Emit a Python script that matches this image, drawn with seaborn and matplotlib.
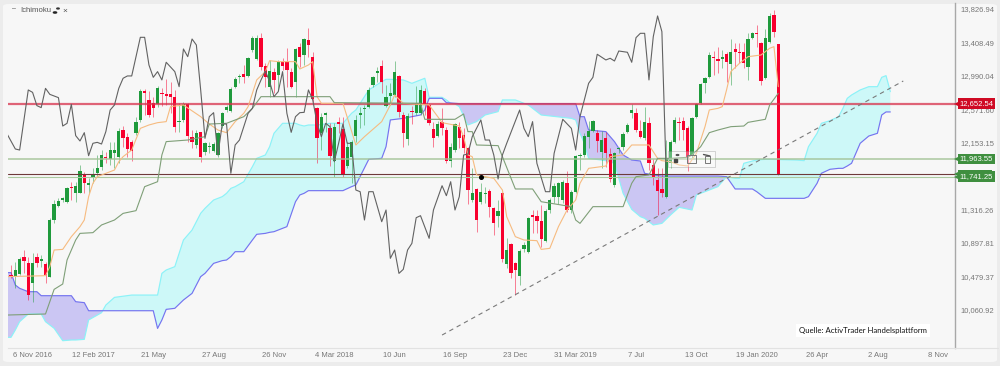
import numpy as np
import seaborn as sns
import matplotlib
matplotlib.use("Agg")
import matplotlib.pyplot as plt
from matplotlib.patches import FancyBboxPatch, Rectangle, Circle
from matplotlib.transforms import blended_transform_factory, ScaledTranslation

# weekly candles
opens = [10510,10498,10523,10731,10656,10406,10740,10690,10644,10490,
         11198,11377,11448,11423,11615,11540,11540,11773,11632,11719,
         11790,11865,11990,11957,12040,11990,12323,12240,12169,12282,
         12449,12811,12699,12657,12649,12786,12769,12769,12740,12419,
         12449,12649,12232,12136,12294,12052,12107,12065,12011,12373,
         12574,12565,12865,12982,13020,12999,13324,13207,13470,13128,
         12857,13053,13011,13178,13178,13053,12928,13365,13261,13449,
         13232,12603,12282,12515,12344,11936,12428,12332,11873,11990,
         12249,12511,12582,12615,12886,13032,13128,12624,12749,12761,
         12999,12511,12211,12561,12532,12532,12815,12636,12332,12249,
         12424,12323,11936,12073,12365,12261,12094,11448,11582,11427,
         11519,11565,11344,11248,11532,10648,10894,10656,10498,10831,
         10802,11261,11248,11186,10940,11323,11482,11482,11448,11665,
         11323,11544,11998,12011,12232,12315,12282,12052,12228,12019,
         11636,12090,12115,12294,12532,12532,12315,12219,12407,11886,
         11699,11590,11490,11907,12178,12428,12440,12353,12011,12490,
         12665,12915,12982,13240,13207,13215,13270,13149,13336,13303,
         13295,13115,13470,13541,13407,12970,13428,13761,13395]
closes = [10481,10573,10706,10690,10260,10656,10656,10706,10510,11198,
          11398,11440,11469,11594,11602,11623,11811,11657,11665,11769,
          11844,12011,11969,12073,12073,12315,12228,12086,12065,12428,
          12815,12782,12511,12594,12845,12769,12749,12740,12365,12436,
          12649,12249,12178,12290,11990,12157,12123,12149,12282,12532,
          12615,12836,12961,12999,12990,13220,13478,13478,13115,12982,
          13061,12949,13170,13124,13074,12865,13332,13240,13457,13386,
          12707,12219,12482,12536,11998,12365,12398,11761,12115,12178,
          12449,12532,12594,12824,12982,13065,12928,12740,12782,13053,
          12553,12282,12499,12544,12657,12824,12636,12415,12228,12394,
          12344,11936,12115,12398,12219,12094,11573,11540,11198,11552,
          11532,11357,11165,11315,10706,10823,10531,10573,10811,10886,
          11219,11240,11186,10961,11315,11448,11623,11657,11669,11323,
          11552,11998,12011,12249,12315,12440,12186,12198,12040,11711,
          12040,12103,12269,12386,12574,12323,12232,12428,11907,11740,
          11565,11532,11969,12178,12449,12415,12323,11990,12469,12649,
          12899,12974,13261,13228,13190,13232,13170,13303,13295,13290,
          13165,13457,13532,13524,12936,13470,13753,13553,11773]
highs = [10635,10677,10740,10823,10740,10781,10781,10761,10677,11219,
         11448,11469,11490,11615,11677,11677,11886,11802,11719,11844,
         12011,12073,12052,12178,12178,12344,12373,12282,12198,12490,
         12832,12832,12815,12740,12874,12845,12957,12928,12824,12657,
         12678,12665,12323,12323,12303,12178,12178,12178,12303,12553,
         12636,12857,12982,13024,13136,13240,13499,13511,13532,13157,
         13199,13095,13199,13220,13345,13095,13345,13407,13470,13595,
         13303,12615,12532,12553,12407,12407,12482,12490,12178,12198,
         12511,12615,12636,12857,12999,13115,13199,12886,12907,13186,
         13011,12553,12532,12624,12874,12886,12845,12657,12428,12440,
         12594,12365,12157,12415,12428,12344,12115,11844,11594,11665,
         11615,11582,11357,11448,11552,10969,10906,10677,10831,10927,
         11240,11323,11323,11386,11332,11469,11665,11677,11699,11815,
         11573,12011,12032,12282,12440,12449,12323,12315,12303,12094,
         12052,12115,12303,12415,12649,12594,12449,12607,12482,11957,
         11844,11844,12197,12198,12482,12490,12482,12373,12490,12657,
         12907,12990,13295,13315,13365,13324,13303,13457,13415,13407,
         13407,13540,13553,13636,13428,13582,13782,13824,13395]
lows = [10469,10344,10510,10531,10198,10177,10615,10615,10406,10490,
        11157,11365,11427,11406,11448,11427,11532,11532,11532,11657,
        11740,11823,11907,11886,11844,11907,12115,11990,11936,12261,
        12428,12511,12490,12490,12615,12623,12636,12532,12303,12303,
        12428,12178,12094,12094,11928,12011,12032,12052,11990,12344,
        12553,12553,12845,12907,12915,12982,13303,13199,13074,12857,
        12740,12782,12824,13074,12865,12845,12740,13115,13136,13240,
        12678,11907,12073,12303,11873,11732,12282,11740,11844,11657,
        12178,12344,12386,12603,12865,12928,12790,12615,12636,12740,
        12490,12107,12136,12398,12511,12511,12511,12386,12107,12232,
        12261,11907,11865,12052,12094,12032,11398,11427,11052,11398,
        11406,11240,11011,11115,10677,10594,10469,10260,10385,10802,
        10790,11031,11031,10856,10927,11282,11406,11398,11406,11302,
        11282,11532,11823,11990,12094,12303,12052,11844,11865,11677,
        11615,12032,12073,12282,12470,12303,12219,12198,11823,11636,
        11261,11490,11469,11844,12157,12198,12198,11815,11969,12470,
        12649,12782,12969,13011,13040,13095,12928,12886,13095,13157,
        13095,12949,13457,13365,12886,12957,13415,13490,11761]

# ichimoku lines, read at their corners
chikou_weeks = [-1,1,2,4,5,6,7,8,9,11,12,13,14,15,16,17,18,19,20,21,22,23,24,25,26,27,28,30,31,32,33,34,35,36,38,39,40,41,42,43,
                44,45,46,47,48,49,50,51,52,53,54,55,56,57,58,59,60,61,62,63,64,65,66,67,68,69,70,71,72,73,74,75,76,
                77,78,79,80,81,82,83,84,86,87,88,89,90,91,92,93,94,95,97,98,100,101,102,103,104,105,106,107,109,110,111,112,113,114,115,
                118,119,120,121,122,124,125,126,128,130,131,132,134,135,136,138,139,140,141,143,144,145,146,147,148,149,150,151,152]
chikou = [12282,12086,12073,12824,12794,12628,12603,12844,12769,12728,12373,12407,12644,12253,12186,12290,12002,12157,12169,12148,12303,12573,12636,12844,12970,12999,12999,13482,13482,13136,12982,13053,12949,13170,13053,12865,13336,13240,13461,13386,
          12824,12219,12490,12540,12011,12398,12398,11782,12136,12198,12365,12532,12594,12824,12949,13061,12928,12740,12803,13053,12532,12294,12490,12540,12544,12824,12699,12407,12240,12407,12365,11927,12157,
          12398,12157,12157,11573,11552,11198,11552,11552,11177,11323,10719,10823,10531,10581,10823,10906,11227,11252,10969,11323,11627,11502,11677,11323,11490,12011,12023,12240,12449,12198,12198,12011,11711,12011,12157,
          12573,12344,12240,12428,11907,11552,11552,12032,12457,12344,12073,12490,12907,12982,13270,13199,13220,13186,13311,13295,13170,13478,13532,13532,12949,13490,13749,13553,11773]

tenkan_weeks = [-1,8,9,10,12,14,16,17,18,19,20,24,25,26,28,30,32,34,36,37,40,44,46,48,50,52,54,55,57,59,60,62,66,67,69,70,71,72,77,80,82,86,88,89,91,
                97,99,100,104,105,106,107,108,112,114,115,117,119,122,123,125,127,129,131,132,134,138,139,142,144,148,150,151,153,155,157,159,161,162,164,165,166,167,169,171,174,176,177,178]
tenkan = [10490,10502,10615,10823,10831,10990,11115,11198,11490,11657,11740,11823,11927,11990,12073,12344,12386,12415,12428,12615,12636,12490,12398,12323,12290,12428,12532,12615,12949,13053,13190,13178,13178,13086,13136,13178,12740,12657,12657,12136,12240,12428,12636,12761,12657,
          12636,12490,12415,12373,12240,12011,11990,11761,11719,11573,11240,10990,10948,10940,10831,10844,11115,11323,11448,11657,11844,11873,11990,12011,12136,12136,11969,11940,11927,11886,11873,12032,12365,12574,12594,12615,12824,13053,13157,13240,13261,13345,13365,12865]

kijun_weeks = [-1,8,10,12,13,15,16,19,21,24,26,29,31,34,35,36,41,45,46,50,54,56,58,74,75,95,96,103,105,106,107,108,113,114,117,121,123,130,131,132,135,142,144,145,148,150,153,157,158,160,162,164,167,170,171,175,176,178]
kijun = [10010,10023,10331,10398,10698,10948,11031,11040,11136,11198,11281,11315,11615,11677,12011,12178,12198,12240,12398,12407,12490,12594,12740,12740,12665,12657,12457,12457,12524,12303,12303,12136,12128,11990,11586,11586,11427,11365,11198,11156,11365,11365,11657,11740,11761,11969,11969,11982,12011,12115,12290,12323,12365,12373,12419,12457,12636,12782]

# cloud, both spans read at the same weeks
cloud_weeks = [-1,0,1,2,4,6,7,8,10,12,14,15,17,18,21,22,24,28,33,34,35,36,38,40,42,44,45,47,49,50,51,52,54,56,57,59,60,61,63,64,66,67,68,69,71,74,76,77,79,80,83,86,87,88,91,93,95,96,97,100,
               101,102,103,104,106,108,110,113,114,117,120,123,130,131,132,133,134,138,140,142,144,146,147,149,151,153,155,158,159,164,166,168,169,170,172,173,175,176,182,184,185,187,188,190,192,193,194,195,197,199,201,202,203,204]
senkou_a = [9731,9731,9823,9927,10023,10023,10023,9927,9844,9689,9698,9698,9706,9948,10039,10135,10231,10260,10260,10260,10531,10573,10615,10948,11073,11282,11344,11448,11490,11532,11594,11615,11677,11865,11969,12011,12115,12282,12407,12407,12407,12386,12373,12386,12386,12407,12407,12407,12532,12574,12824,12928,12957,12957,12949,12907,12949,12970,12732,12732,
            12699,12657,12649,12615,12386,12428,12511,12553,12699,12699,12636,12511,12469,12449,12282,12157,11969,11940,11907,11532,11331,11240,11219,11136,11156,11261,11357,11323,11511,11615,11740,11719,11719,11907,11936,11948,11957,11957,11948,11940,12115,12282,12407,12440,12490,12594,12719,12761,12824,12865,12865,12982,13003,12803]
senkou_b = [10540,10540,10385,10344,10302,10302,10252,10252,10252,10252,10252,10177,10165,10064,10064,10064,10064,10064,10064,9843,9948,10081,10094,10198,10281,10490,10531,10656,10690,10698,10740,10802,10802,10948,11019,11031,11044,11052,11094,11115,11427,11511,11532,11565,11565,11565,11565,11565,11615,11636,11957,11969,12115,12449,12469,12490,12511,12574,12719,12719,
            12665,12661,12657,12653,12653,12653,12653,12653,12653,12653,12653,12653,12653,12653,12490,12490,12323,12303,12178,12011,11948,11936,11782,11761,11748,11748,11748,11748,11748,11748,11740,11586,11586,11586,11586,11552,11469,11469,11469,11469,11490,11657,11782,11832,11844,11844,11873,11907,12157,12248,12282,12511,12549,12549]

# drawn trend line and horizontal levels
trend_weeks = [100, 207]
trend_prices = [9760, 12936]
dot_week = [109]
dot_price = [11740]
level_red = 12652.54
level_green = 11963.55
level_dark = 11778.0
level_green2 = 11741.25

tick_weeks = [5, 19, 33, 47, 61, 75, 89, 103, 117, 131, 145, 159, 173, 187, 201, 215]
tick_dates = ["6 Nov 2016", "12 Feb 2017", "21 May", "27 Aug", "26 Nov", "4 Mar 2018", "10 Jun", "16 Sep",
              "23 Dec", "31 Mar 2019", "7 Jul", "13 Oct", "19 Jan 2020", "26 Apr", "2 Aug", "8 Nov"]
price_ticks = [13826.94, 13408.49, 12990.04, 12571.60, 12153.15, 11316.26, 10897.81, 10479.37, 10060.92]

GREEN = "#1f9a3c"
RED = "#f8002e"
W, H = 1000, 366

sns.set_theme(style="white")
plt.rcParams["font.family"] = ["Liberation Sans", "DejaVu Sans"]

fig = plt.figure(figsize=(W / 100, H / 100), dpi=100, facecolor="#ececec")
panel = FancyBboxPatch((3 / W, 4 / H), 994 / W, 358 / H, boxstyle="round,pad=0,rounding_size=0.006",
                       transform=fig.transFigure, facecolor="#f7f7f7", edgecolor="none", zorder=-1)
fig.add_artist(panel)

ax = fig.add_axes([8 / W, 18 / H, 947 / W, 345 / H], facecolor="none")

# cloud
wk = np.array(cloud_weeks)
a = np.array(senkou_a, dtype=float)
b = np.array(senkou_b, dtype=float)
ax.fill_between(wk, a, b, where=a >= b, interpolate=True, color="#cdf8f8", lw=0, zorder=1)
ax.fill_between(wk, a, b, where=a < b, interpolate=True, color="#cbc6f3", lw=0, zorder=1)
sns.lineplot(x=cloud_weeks, y=senkou_a, color="#8cf2f7", linewidth=0.85, estimator=None, sort=False, ax=ax, zorder=2)
sns.lineplot(x=cloud_weeks, y=senkou_b, color="#7474f0", linewidth=0.85, estimator=None, sort=False, ax=ax, zorder=2)

# candles
weeks = np.arange(len(opens))
o = np.array(opens)
c = np.array(closes)
colors = [GREEN if y >= x else RED for x, y in zip(opens, closes)]
ax.vlines(weeks, lows, highs, colors=colors, linewidth=0.7, alpha=0.5, zorder=3)
ax.bar(weeks, np.abs(c - o), bottom=np.minimum(o, c), width=0.76, color=colors, linewidth=0, zorder=4)

# levels
ax.axhline(level_red, color="#d8324c", lw=1.6, alpha=0.75, zorder=5)
ax.axhline(level_green, color="#a3c296", lw=1.1, alpha=0.9, zorder=5)
ax.axhline(level_dark, color="#6e3a3a", lw=0.8, zorder=5)
ax.axhline(level_green2, color="#abc9a0", lw=0.8, zorder=5)

# tenkan / kijun / chikou
sns.lineplot(x=tenkan_weeks, y=tenkan, color="#f6bb80", linewidth=0.8, estimator=None, sort=False, ax=ax, zorder=6)
sns.lineplot(x=kijun_weeks, y=kijun, color="#7f9f78", linewidth=0.8, estimator=None, sort=False, ax=ax, zorder=6)
sns.lineplot(x=chikou_weeks, y=chikou, color="#626262", linewidth=0.8, estimator=None, sort=False, ax=ax, zorder=6)
ax.plot(trend_weeks, trend_prices, color="#7a7a7a", lw=0.8, dashes=(4, 3.5), zorder=7)
ax.plot(dot_week, dot_price, "o", color="black", ms=2.6, zorder=7)

ax.set_xlim(-0.7, 219.0)
ax.set_ylim(9598, 13911)
ax.set_xlabel("")
ax.set_ylabel("")
ax.set_xticks(tick_weeks, tick_dates)
ax.yaxis.tick_right()
ax.set_yticks(price_ticks, [f"{v:,.2f}" for v in price_ticks])
ax.tick_params(axis="x", length=0, pad=3, labelsize=5.5, labelcolor="#777777")
ax.tick_params(axis="y", length=0, pad=4, labelsize=5.5, labelcolor="#777777")
# price labels sit a pixel above their level
for lab in ax.get_yticklabels():
    lab.set_transform(lab.get_transform() + ScaledTranslation(0, 0.01, fig.dpi_scale_trans))
for name in ["top", "left"]:
    ax.spines[name].set_visible(False)
ax.spines["right"].set_color("#a8a8a8")
ax.spines["right"].set_linewidth(1.0)
ax.spines["bottom"].set_color("#e2e2e2")
ax.spines["bottom"].set_linewidth(0.8)
fig.add_artist(plt.Line2D([955 / W, 998 / W], [18 / H, 18 / H], color="#e2e2e2", lw=0.8))

# price tags on the axis, the tag at level_dark is covered by the next one
tag_tf = blended_transform_factory(ax.transAxes, ax.transData)
for price, label, col in [(level_red, "12,652.54", "#cf0a24"),
                          (level_green, "11,963.55", "#3f8f3f"),
                          (level_dark, None, "#3f8f3f"),
                          (level_green2, "11,741.25", "#3f8f3f")]:
    ax.plot([1.0018], [price], marker="<", ms=4, mew=0, color=col, transform=tag_tf, clip_on=False, zorder=10)
    if label is None:
        ax.add_patch(Rectangle((1.0035, price - 45), 0.0355, 90, transform=tag_tf, fc=col, ec="none",
                               clip_on=False, zorder=10))
        continue
    ax.text(1.0048, price, label, transform=tag_tf, ha="left", va="center", fontsize=5.5, color="white",
            clip_on=False, zorder=10, bbox=dict(boxstyle="square,pad=0.22", fc=col, ec="none"))

# header
fig.text(20 / W, 1 - 11 / H, "Ichimoku", fontsize=5.6, color="#555555", va="center")
fig.text(14 / W, 1 - 8.5 / H, "\u2013", fontsize=5, color="#555555", va="center", ha="center")
fig.text(64.5 / W, 1 - 11 / H, "\u00d7", fontsize=6, color="#555555", va="center", ha="center")
fig.add_artist(Circle((55 / W, 1 - 12.5 / H), 0.0016, color="#222222", transform=fig.transFigure))
fig.add_artist(Circle((58 / W, 1 - 8.5 / H), 0.0012, color="#333333", transform=fig.transFigure))

# floating toolbar on the trend line
fig.add_artist(Rectangle((668 / W, 1 - 167 / H), 47 / W, 16 / H, transform=fig.transFigure,
                         facecolor="#ffffff", alpha=0.3, edgecolor="#777777", lw=0.7, zorder=8))
fig.add_artist(Circle((677.5 / W, 1 - 155 / H), 0.0012, color="#555555", transform=fig.transFigure, zorder=9))
fig.add_artist(Rectangle((674 / W, 1 - 162 / H), 3 / W, 3 / H, color="#444444", transform=fig.transFigure, zorder=9))
fig.add_artist(Rectangle((686.5 / W, 1 - 163 / H), 9 / W, 8 / H, facecolor="none", edgecolor="#777777", lw=0.7,
                         transform=fig.transFigure, zorder=9))
fig.add_artist(Rectangle((704.5 / W, 1 - 163 / H), 5 / W, 7 / H, facecolor="none", edgecolor="#777777", lw=0.7,
                         transform=fig.transFigure, zorder=9))
fig.add_artist(plt.Line2D([703.5 / W, 710 / W], [1 - 154.5 / H, 1 - 156 / H], color="#555555", lw=1.0, zorder=9))

# source note
fig.text(863 / W, 1 - 330.5 / H, "Quelle: ActivTrader Handelsplattform", fontsize=5.6, family="Lato", color="#111111",
         ha="center", va="center", bbox=dict(boxstyle="square,pad=0.35", fc="white", ec="none"))

fig.savefig("out.png", dpi=100, facecolor=fig.get_facecolor())
